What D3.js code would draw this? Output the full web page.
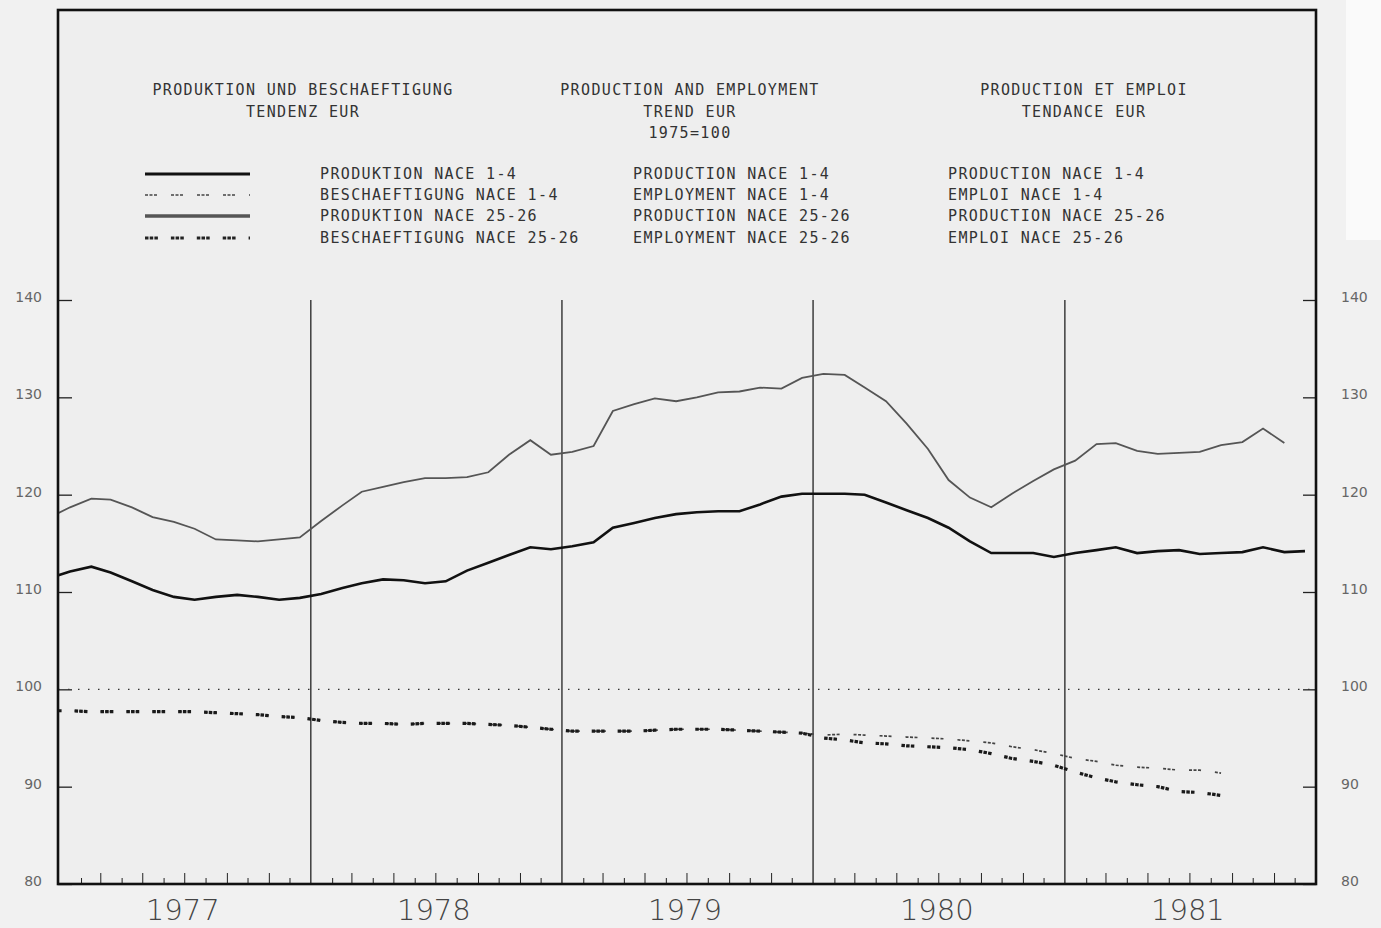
<!DOCTYPE html>
<html>
<head>
<meta charset="utf-8">
<script src="https://cdn.jsdelivr.net/npm/d3@7"></script>
<style>
  html, body { margin: 0; padding: 0; background: #f1f1f1; overflow: hidden; }
  svg { display: block; }
</style>
</head>
<body>
<svg id="chart" width="1381" height="928"></svg>
<script>
// ---------- DATA (monthly, mid-month, starting Dec 1976) ----------
const startYear = 1976, startMonth = 11; // December 1976
const prodNace14 = [111.4, 112.1, 112.6, 112.0, 111.1, 110.2, 109.5, 109.2, 109.5, 109.7, 109.5, 109.2, 109.4,
  109.8, 110.4, 110.9, 111.3, 111.2, 110.9, 111.1, 112.2, 113.0, 113.8, 114.6, 114.4,
  114.7, 115.1, 116.6, 117.1, 117.6, 118.0, 118.2, 118.3, 118.3, 119.0, 119.8, 120.1,
  120.1, 120.1, 120.0, 119.2, 118.4, 117.6, 116.6, 115.2, 114.0, 114.0, 114.0, 113.6,
  114.0, 114.3, 114.6, 114.0, 114.2, 114.3, 113.9, 114.0, 114.1, 114.6, 114.1, 114.2];
const prodNace2526 = [117.6, 118.7, 119.6, 119.5, 118.7, 117.7, 117.2, 116.5, 115.4, 115.3, 115.2, 115.4, 115.6,
  117.3, 118.9, 120.3, 120.8, 121.3, 121.7, 121.7, 121.8, 122.3, 124.1, 125.6, 124.1,
  124.4, 125.0, 128.6, 129.3, 129.9, 129.6, 130.0, 130.5, 130.6, 131.0, 130.9, 132.0,
  132.4, 132.3, 131.0, 129.6, 127.3, 124.7, 121.5, 119.7, 118.7, 120.1, 121.4, 122.6,
  123.5, 125.2, 125.3, 124.5, 124.2, 124.3, 124.4, 125.1, 125.4, 126.8, 125.3];
const empNace14 = [97.8, 97.8, 97.7, 97.7, 97.7, 97.7, 97.7, 97.7, 97.6, 97.5, 97.4, 97.2, 97.1,
  96.8, 96.6, 96.5, 96.5, 96.4, 96.5, 96.5, 96.5, 96.4, 96.3, 96.1, 95.9,
  95.7, 95.7, 95.7, 95.7, 95.8, 95.9, 95.9, 95.9, 95.8, 95.7, 95.6, 95.5,
  95.3, 95.4, 95.3, 95.2, 95.1, 95.0, 94.9, 94.7, 94.5, 94.1, 93.8, 93.4,
  92.9, 92.6, 92.2, 92.0, 91.9, 91.7, 91.7, 91.4];
const empNace2526 = [97.8, 97.8, 97.7, 97.7, 97.7, 97.7, 97.7, 97.7, 97.6, 97.5, 97.4, 97.2, 97.1,
  96.8, 96.6, 96.5, 96.5, 96.4, 96.5, 96.5, 96.5, 96.4, 96.3, 96.1, 95.9,
  95.7, 95.7, 95.7, 95.7, 95.8, 95.9, 95.9, 95.9, 95.8, 95.7, 95.6, 95.5,
  95.0, 94.8, 94.5, 94.4, 94.2, 94.1, 94.0, 93.8, 93.4, 92.9, 92.6, 92.2,
  91.5, 90.9, 90.5, 90.2, 90.0, 89.5, 89.4, 89.1];
const baseValue = 100;
const yTicks = [80, 90, 100, 110, 120, 130, 140];
const years = [1977, 1978, 1979, 1980, 1981];
const titleDE = ["PRODUKTION UND BESCHAEFTIGUNG", "TENDENZ EUR"];
const titleEN = ["PRODUCTION AND EMPLOYMENT", "TREND EUR", "1975=100"];
const titleFR = ["PRODUCTION ET EMPLOI", "TENDANCE EUR"];
const legendDE = ["PRODUKTION NACE 1-4", "BESCHAEFTIGUNG NACE 1-4", "PRODUKTION NACE 25-26", "BESCHAEFTIGUNG NACE 25-26"];
const legendEN = ["PRODUCTION NACE 1-4", "EMPLOYMENT NACE 1-4", "PRODUCTION NACE 25-26", "EMPLOYMENT NACE 25-26"];
const legendFR = ["PRODUCTION NACE 1-4", "EMPLOI NACE 1-4", "PRODUCTION NACE 25-26", "EMPLOI NACE 25-26"];

// ---------- LAYOUT ----------
const frame = {left: 58, right: 1316, top: 10, bottom: 884};
const svg = d3.select("#chart");

const x = d3.scaleUtc()
  .domain([new Date(Date.UTC(1977, 0, 1)), new Date(Date.UTC(1982, 0, 1))])
  .range([59.7, 1316]);
const y = d3.scaleLinear().domain([80, 140]).range([884, 300]);

const monthDate = i => new Date(Date.UTC(startYear, startMonth + i, 16));

// background
svg.append("rect").attr("x", 0).attr("y", 0).attr("width", 1381).attr("height", 928).attr("fill", "#f1f1f1");
svg.append("rect").attr("x", 1346).attr("y", 0).attr("width", 35).attr("height", 240).attr("fill", "#fafafa");
svg.append("rect").attr("x", frame.left).attr("y", frame.top)
  .attr("width", frame.right - frame.left).attr("height", frame.bottom - frame.top)
  .attr("fill", "#eeeeee");

svg.append("clipPath").attr("id", "clip").append("rect")
  .attr("x", frame.left).attr("y", frame.top)
  .attr("width", frame.right - frame.left).attr("height", frame.bottom - frame.top);

// ---------- TITLES ----------
const monoFont = "'DejaVu Sans Mono', 'Liberation Mono', monospace";
function block(lines, cx, y0, dy) {
  lines.forEach((t, k) => {
    svg.append("text").attr("x", cx).attr("y", y0 + k * dy)
      .attr("text-anchor", "middle")
      .attr("font-family", monoFont).attr("font-size", 15)
      .attr("letter-spacing", "1.35px")
      .attr("fill", "#333").text(t);
  });
}
block(titleDE, 303, 95, 21.5);
block(titleEN, 690, 95, 21.5);
block(titleFR, 1084, 95, 21.5);

// ---------- LEGEND ----------
const dashEmp14 = "3,1.5,3,1.5,3,14";
const dashEmp2526 = "3.5,1.2,3.5,1.2,3.5,13";
const legendStyles = [
  {stroke: "#111", width: 3, dash: null},
  {stroke: "#444", width: 1.6, dash: dashEmp14},
  {stroke: "#555", width: 3.4, dash: null},
  {stroke: "#222", width: 2.8, dash: dashEmp2526}
];
const legendY = [179, 200, 221, 243];
legendStyles.forEach((s, k) => {
  const ly = legendY[k] - 5;
  svg.append("line").attr("x1", 145).attr("x2", 250).attr("y1", ly).attr("y2", ly)
    .attr("stroke", s.stroke).attr("stroke-width", s.width)
    .attr("stroke-dasharray", s.dash);
  [[legendDE, 320], [legendEN, 633], [legendFR, 948]].forEach(([arr, lx]) => {
    svg.append("text").attr("x", lx).attr("y", legendY[k])
      .attr("font-family", monoFont).attr("font-size", 15)
      .attr("letter-spacing", "1.35px")
      .attr("fill", "#333").text(arr[k]);
  });
});

// ---------- AXES ----------
const leftAxis = d3.axisLeft(y).tickValues(yTicks).tickSizeInner(-14).tickSizeOuter(0).tickPadding(16);
const rightAxis = d3.axisRight(y).tickValues(yTicks).tickSizeInner(-13).tickSizeOuter(0).tickPadding(25);
function styleY(g) {
  g.select(".domain").remove();
  g.selectAll(".tick line").attr("stroke", "#222").attr("stroke-width", 1.3);
  g.selectAll(".tick text").attr("font-family", "'DejaVu Sans', sans-serif")
    .attr("font-size", 14).attr("fill", "#666").attr("dy", "0.1em");
}
svg.append("g").attr("transform", `translate(${frame.left},0)`).call(leftAxis).call(styleY);
svg.append("g").attr("transform", `translate(${frame.right},0)`).call(rightAxis).call(styleY);

// month ticks on bottom
const monthTicks = d3.utcMonth.range(new Date(Date.UTC(1977, 0, 1)), new Date(Date.UTC(1982, 0, 1)))
  .filter(d => d.getUTCMonth() !== 0);
const bottomAxis = d3.axisBottom(x).tickValues(monthTicks).tickSizeInner(-10).tickSizeOuter(0).tickFormat("");
const gB = svg.append("g").attr("transform", `translate(0,${frame.bottom})`).call(bottomAxis);
gB.select(".domain").remove();
gB.selectAll(".tick line")
  .attr("y2", d => d.getUTCMonth() % 2 === 1 ? -6 : -11)
  .attr("stroke", "#222").attr("stroke-width", 1);

// year labels
const yearAxis = d3.axisBottom(x)
  .tickValues(years.map(yr => new Date(Date.UTC(yr, 6, 1))))
  .tickSize(0).tickPadding(0)
  .tickFormat(d => d.getUTCFullYear());
const gY = svg.append("g").attr("transform", `translate(-2,${frame.bottom + 36})`).call(yearAxis);
gY.select(".domain").remove();
gY.selectAll(".tick text").attr("font-family", "'DejaVu Sans', sans-serif")
  .attr("font-size", 29).attr("font-weight", 300).attr("fill", "#444")
  .attr("y", 0).attr("dy", "0");

// year separator lines
svg.append("g").selectAll("line")
  .data(years.slice(1))
  .join("line")
  .attr("x1", d => x(new Date(Date.UTC(d, 0, 1)))).attr("x2", d => x(new Date(Date.UTC(d, 0, 1))))
  .attr("y1", y(140)).attr("y2", frame.bottom)
  .attr("stroke", "#222").attr("stroke-width", 1.3);

// base 100 dotted line
svg.append("line").attr("x1", frame.left).attr("x2", frame.right)
  .attr("y1", y(baseValue)).attr("y2", y(baseValue))
  .attr("stroke", "#333").attr("stroke-width", 1.4).attr("stroke-dasharray", "1.5,8.5");

// ---------- SERIES ----------
const line = d3.line().x((d, i) => x(monthDate(i))).y(d => y(d));
const plot = svg.append("g").attr("clip-path", "url(#clip)");
plot.append("path").datum(prodNace2526).attr("d", line)
  .attr("fill", "none").attr("stroke", "#555").attr("stroke-width", 1.8);
plot.append("path").datum(prodNace14).attr("d", line)
  .attr("fill", "none").attr("stroke", "#111").attr("stroke-width", 2.6);
plot.append("path").datum(empNace14).attr("d", line)
  .attr("fill", "none").attr("stroke", "#444").attr("stroke-width", 1.7)
  .attr("stroke-dasharray", dashEmp14);
plot.append("path").datum(empNace2526).attr("d", line)
  .attr("fill", "none").attr("stroke", "#1a1a1a").attr("stroke-width", 3.2)
  .attr("stroke-dasharray", dashEmp2526);

// frame
svg.append("rect").attr("x", frame.left).attr("y", frame.top)
  .attr("width", frame.right - frame.left).attr("height", frame.bottom - frame.top)
  .attr("fill", "none").attr("stroke", "#111").attr("stroke-width", 2.6);
</script>
</body>
</html>
